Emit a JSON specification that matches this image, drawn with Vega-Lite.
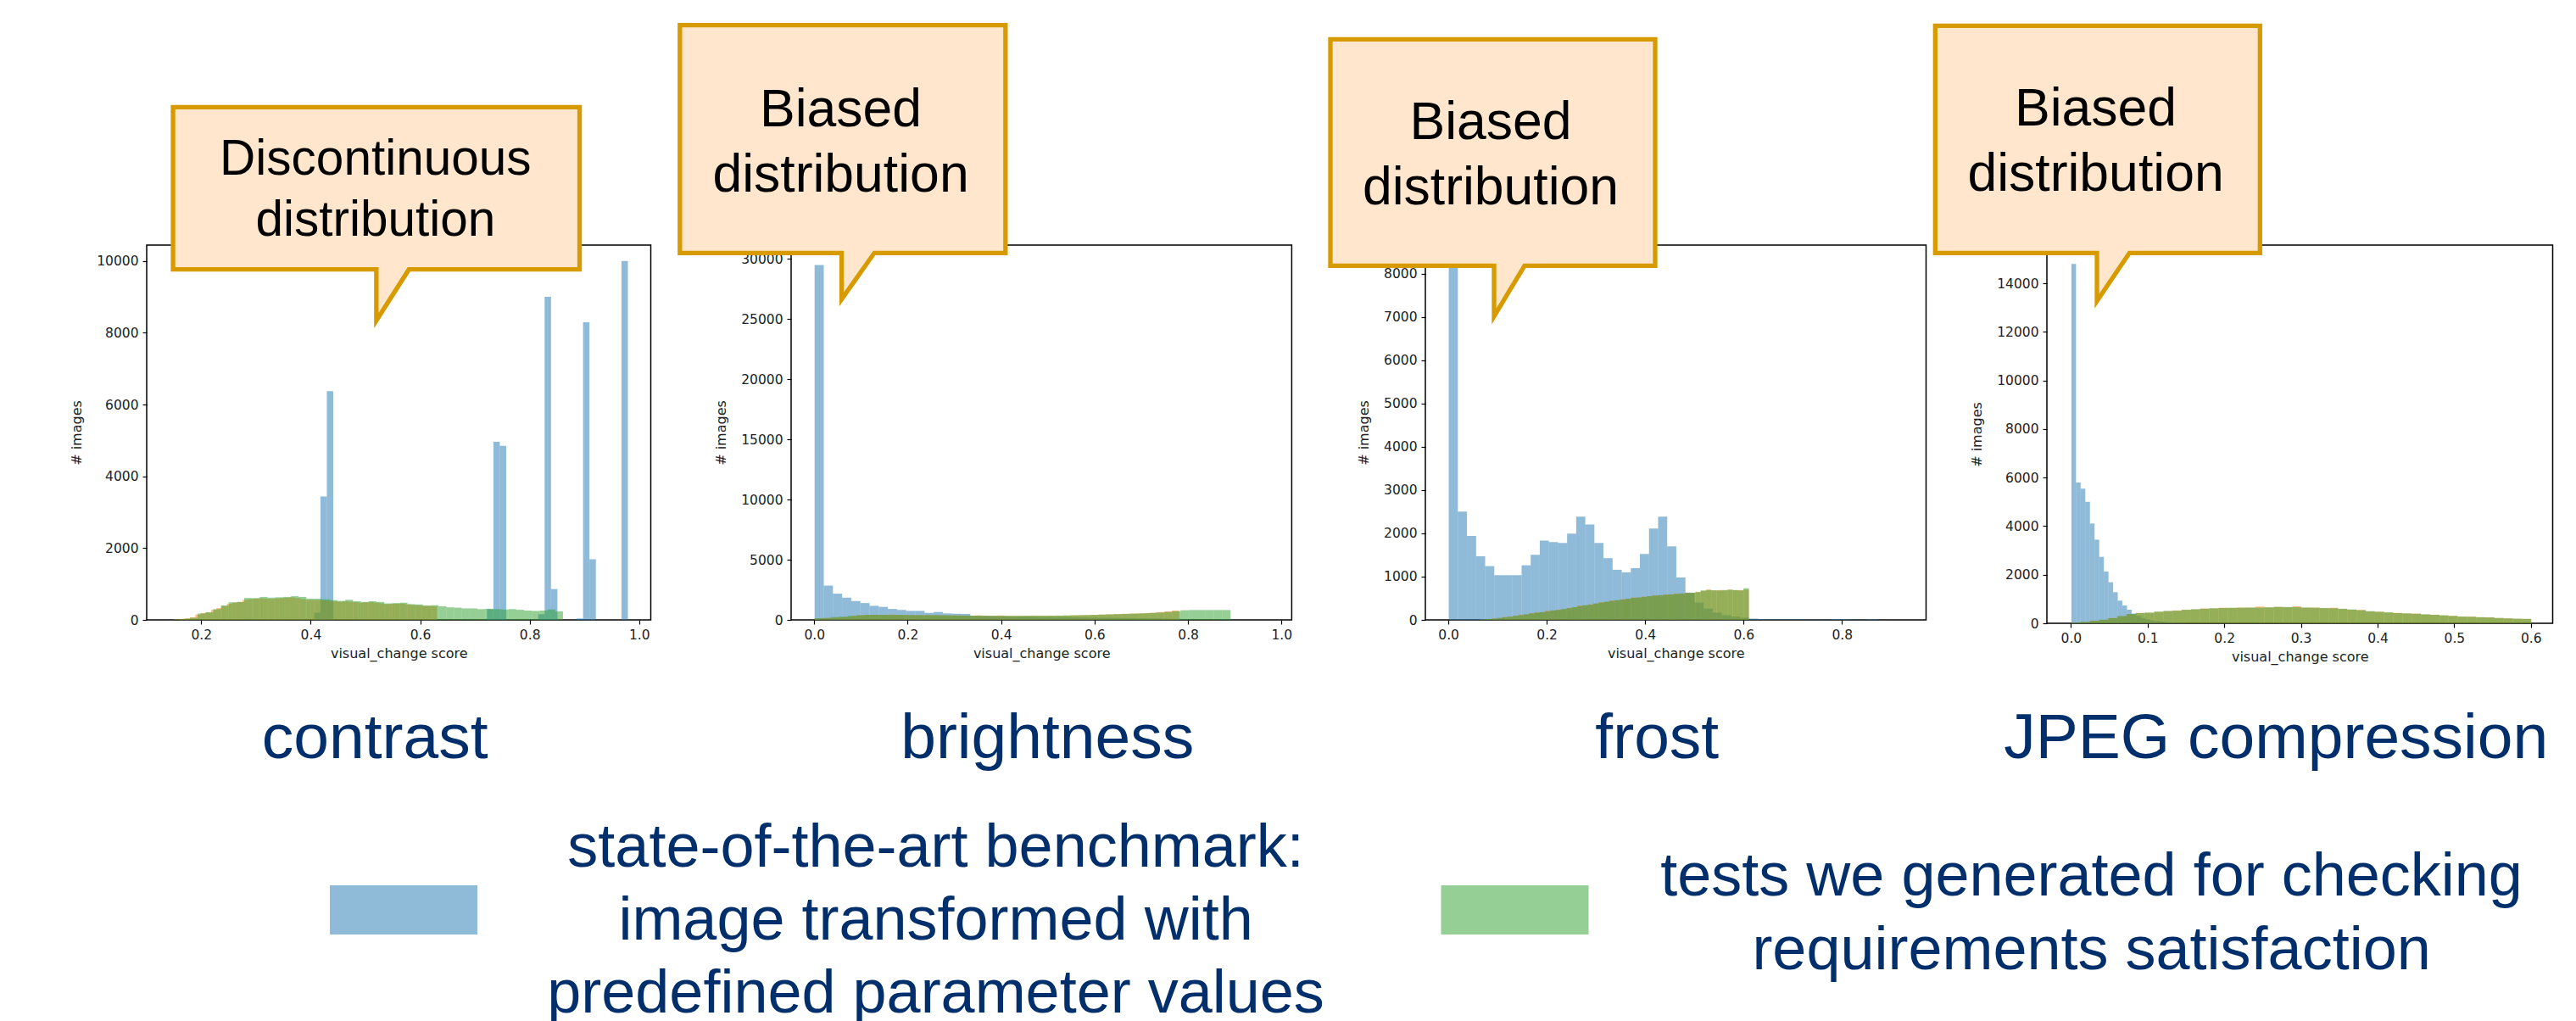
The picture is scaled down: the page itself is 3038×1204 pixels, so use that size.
{
"$schema": "https://vega.github.io/schema/vega-lite/v6.json",
"background": "white",
"padding": {"left": 81, "top": 18, "right": 10, "bottom": 10},
"config": {
  "view": {"stroke": "#000", "strokeWidth": 1.5},
  "axis": {"domain": false, "grid": false, "ticks": true, "tickColor": "#000", "tickSize": 5, "tickWidth": 1.2, "labelFont": "DejaVu Sans", "labelFontSize": 15.5, "labelColor": "#222", "labelPadding": 5, "labelFlush": false, "labelOverlap": false, "titleFont": "DejaVu Sans", "titleFontSize": 16, "titleFontWeight": "normal", "titleColor": "#222"},
  "axisX": {"titlePadding": 6},
  "axisY": {"titlePadding": 15},
  "font": "Liberation Sans"
},
"datasets": {
  "contrast_benchmark": [{"score":0.4053,"count":200},{"score":0.417,"count":3435},{"score":0.4287,"count":6370},{"score":0.7212,"count":300},{"score":0.7329,"count":4960},{"score":0.7446,"count":4850},{"score":0.8148,"count":160},{"score":0.8265,"count":9000},{"score":0.8382,"count":860},{"score":0.885,"count":40},{"score":0.8967,"count":8290},{"score":0.9084,"count":1690},{"score":0.9669,"count":10000}],
  "contrast_other": [{"score":0.15,"count":15},{"score":0.1596,"count":25},{"score":0.1692,"count":45},{"score":0.1788,"count":70},{"score":0.1884,"count":150},{"score":0.198,"count":190},{"score":0.2076,"count":210},{"score":0.2172,"count":280},{"score":0.2268,"count":330},{"score":0.2364,"count":390},{"score":0.246,"count":450},{"score":0.2556,"count":480},{"score":0.2652,"count":500},{"score":0.2748,"count":560},{"score":0.2844,"count":580},{"score":0.294,"count":590},{"score":0.3036,"count":600},{"score":0.3132,"count":590},{"score":0.3228,"count":585},{"score":0.3324,"count":600},{"score":0.342,"count":610},{"score":0.3516,"count":620},{"score":0.3612,"count":630},{"score":0.3708,"count":610},{"score":0.3804,"count":580},{"score":0.39,"count":560},{"score":0.3996,"count":560},{"score":0.4092,"count":555},{"score":0.4188,"count":545},{"score":0.4284,"count":530},{"score":0.438,"count":520},{"score":0.4476,"count":505},{"score":0.4572,"count":520},{"score":0.4668,"count":510},{"score":0.4764,"count":495},{"score":0.486,"count":480},{"score":0.4956,"count":490},{"score":0.5052,"count":495},{"score":0.5148,"count":480},{"score":0.5244,"count":460},{"score":0.534,"count":440},{"score":0.5436,"count":445},{"score":0.5532,"count":450},{"score":0.5628,"count":455},{"score":0.5724,"count":430},{"score":0.582,"count":415},{"score":0.5916,"count":410},{"score":0.6012,"count":390},{"score":0.6108,"count":390},{"score":0.6204,"count":380}],
  "contrast_tests": [{"score":0.15,"count":15},{"score":0.1642,"count":30},{"score":0.1784,"count":60},{"score":0.1926,"count":180},{"score":0.2068,"count":210},{"score":0.221,"count":300},{"score":0.2352,"count":400},{"score":0.2494,"count":490},{"score":0.2636,"count":500},{"score":0.2778,"count":610},{"score":0.292,"count":610},{"score":0.3062,"count":640},{"score":0.3204,"count":620},{"score":0.3346,"count":630},{"score":0.3488,"count":640},{"score":0.363,"count":660},{"score":0.3772,"count":640},{"score":0.3914,"count":590},{"score":0.4056,"count":590},{"score":0.4198,"count":570},{"score":0.434,"count":550},{"score":0.4482,"count":530},{"score":0.4624,"count":560},{"score":0.4766,"count":520},{"score":0.4908,"count":500},{"score":0.505,"count":520},{"score":0.5192,"count":500},{"score":0.5334,"count":460},{"score":0.5476,"count":470},{"score":0.5618,"count":480},{"score":0.576,"count":440},{"score":0.5902,"count":430},{"score":0.6044,"count":400},{"score":0.6186,"count":410},{"score":0.6328,"count":380},{"score":0.647,"count":350},{"score":0.6612,"count":340},{"score":0.6754,"count":320},{"score":0.6896,"count":320},{"score":0.7038,"count":300},{"score":0.718,"count":310},{"score":0.7322,"count":300},{"score":0.7464,"count":290},{"score":0.7606,"count":300},{"score":0.7748,"count":280},{"score":0.789,"count":260},{"score":0.8032,"count":250},{"score":0.8174,"count":260},{"score":0.8316,"count":290},{"score":0.8458,"count":240}],
  "brightness_benchmark": [{"score":0,"count":29500},{"score":0.0196,"count":2850},{"score":0.0392,"count":2180},{"score":0.0588,"count":1850},{"score":0.0784,"count":1570},{"score":0.098,"count":1400},{"score":0.1176,"count":1170},{"score":0.1372,"count":1080},{"score":0.1568,"count":910},{"score":0.1764,"count":820},{"score":0.196,"count":750},{"score":0.2156,"count":750},{"score":0.2352,"count":585},{"score":0.2548,"count":655},{"score":0.2744,"count":540},{"score":0.294,"count":515},{"score":0.3136,"count":500},{"score":0.3332,"count":330},{"score":0.3528,"count":320},{"score":0.3724,"count":300},{"score":0.392,"count":290},{"score":0.4116,"count":280},{"score":0.4312,"count":270},{"score":0.4508,"count":260},{"score":0.4704,"count":250},{"score":0.49,"count":240},{"score":0.5096,"count":230},{"score":0.5292,"count":220},{"score":0.5488,"count":210},{"score":0.5684,"count":200},{"score":0.588,"count":190},{"score":0.6076,"count":180},{"score":0.6272,"count":170},{"score":0.6468,"count":160},{"score":0.6664,"count":150},{"score":0.686,"count":140},{"score":0.7056,"count":130},{"score":0.7252,"count":120},{"score":0.7448,"count":110},{"score":0.7644,"count":100}],
  "brightness_other": [{"score":0,"count":130},{"score":0.0156,"count":150},{"score":0.0312,"count":180},{"score":0.0468,"count":230},{"score":0.0624,"count":260},{"score":0.078,"count":350},{"score":0.0936,"count":400},{"score":0.1092,"count":430},{"score":0.1248,"count":430},{"score":0.1404,"count":420},{"score":0.156,"count":440},{"score":0.1716,"count":420},{"score":0.1872,"count":410},{"score":0.2028,"count":400},{"score":0.2184,"count":390},{"score":0.234,"count":400},{"score":0.2496,"count":400},{"score":0.2652,"count":380},{"score":0.2808,"count":375},{"score":0.2964,"count":380},{"score":0.312,"count":360},{"score":0.3276,"count":350},{"score":0.3432,"count":380},{"score":0.3588,"count":340},{"score":0.3744,"count":340},{"score":0.39,"count":370},{"score":0.4056,"count":335},{"score":0.4212,"count":330},{"score":0.4368,"count":340},{"score":0.4524,"count":350},{"score":0.468,"count":345},{"score":0.4836,"count":340},{"score":0.4992,"count":350},{"score":0.5148,"count":350},{"score":0.5304,"count":360},{"score":0.546,"count":380},{"score":0.5616,"count":390},{"score":0.5772,"count":400},{"score":0.5928,"count":420},{"score":0.6084,"count":440},{"score":0.624,"count":460},{"score":0.6396,"count":480},{"score":0.6552,"count":500},{"score":0.6708,"count":520},{"score":0.6864,"count":540},{"score":0.702,"count":560},{"score":0.7176,"count":600},{"score":0.7332,"count":650},{"score":0.7488,"count":700},{"score":0.7644,"count":780}],
  "brightness_tests": [{"score":0,"count":140},{"score":0.0178,"count":160},{"score":0.0356,"count":230},{"score":0.0534,"count":260},{"score":0.0712,"count":330},{"score":0.089,"count":390},{"score":0.1068,"count":420},{"score":0.1246,"count":420},{"score":0.1424,"count":420},{"score":0.1602,"count":410},{"score":0.178,"count":410},{"score":0.1958,"count":400},{"score":0.2136,"count":400},{"score":0.2314,"count":390},{"score":0.2492,"count":390},{"score":0.267,"count":380},{"score":0.2848,"count":370},{"score":0.3026,"count":360},{"score":0.3204,"count":355},{"score":0.3382,"count":350},{"score":0.356,"count":345},{"score":0.3738,"count":340},{"score":0.3916,"count":340},{"score":0.4094,"count":335},{"score":0.4272,"count":340},{"score":0.445,"count":340},{"score":0.4628,"count":345},{"score":0.4806,"count":345},{"score":0.4984,"count":350},{"score":0.5162,"count":360},{"score":0.534,"count":370},{"score":0.5518,"count":380},{"score":0.5696,"count":400},{"score":0.5874,"count":420},{"score":0.6052,"count":440},{"score":0.623,"count":460},{"score":0.6408,"count":480},{"score":0.6586,"count":500},{"score":0.6764,"count":520},{"score":0.6942,"count":540},{"score":0.712,"count":570},{"score":0.7298,"count":610},{"score":0.7476,"count":660},{"score":0.7654,"count":720},{"score":0.7832,"count":800},{"score":0.801,"count":820},{"score":0.8188,"count":820},{"score":0.8366,"count":820},{"score":0.8544,"count":820},{"score":0.8722,"count":820}],
  "frost_benchmark": [{"score":0,"count":8210},{"score":0.0185,"count":2505},{"score":0.037,"count":1942},{"score":0.0555,"count":1471},{"score":0.074,"count":1243},{"score":0.0925,"count":1033},{"score":0.111,"count":1033},{"score":0.1295,"count":1033},{"score":0.148,"count":1262},{"score":0.1665,"count":1504},{"score":0.185,"count":1831},{"score":0.2035,"count":1800},{"score":0.222,"count":1780},{"score":0.2405,"count":1995},{"score":0.259,"count":2387},{"score":0.2775,"count":2204},{"score":0.296,"count":1780},{"score":0.3145,"count":1426},{"score":0.333,"count":1158},{"score":0.3515,"count":1099},{"score":0.37,"count":1197},{"score":0.3885,"count":1524},{"score":0.407,"count":2112},{"score":0.4255,"count":2387},{"score":0.444,"count":1700},{"score":0.4625,"count":981},{"score":0.481,"count":630},{"score":0.4995,"count":400},{"score":0.518,"count":260},{"score":0.5365,"count":170},{"score":0.555,"count":110},{"score":0.5735,"count":80},{"score":0.592,"count":50},{"score":0.6105,"count":30},{"score":0.629,"count":15},{"score":0.6475,"count":12},{"score":0.666,"count":12},{"score":0.6845,"count":12},{"score":0.703,"count":12},{"score":0.7215,"count":10},{"score":0.74,"count":10},{"score":0.7585,"count":5},{"score":0.777,"count":20},{"score":0.7955,"count":20},{"score":0.814,"count":5},{"score":0.8325,"count":3},{"score":0.851,"count":20},{"score":0.8695,"count":3}],
  "frost_other": [{"score":0.065,"count":8},{"score":0.0759,"count":18},{"score":0.0868,"count":35},{"score":0.0977,"count":40},{"score":0.1086,"count":65},{"score":0.1195,"count":80},{"score":0.1304,"count":90},{"score":0.1413,"count":120},{"score":0.1522,"count":125},{"score":0.1631,"count":155},{"score":0.174,"count":170},{"score":0.1849,"count":175},{"score":0.1958,"count":210},{"score":0.2067,"count":215},{"score":0.2176,"count":240},{"score":0.2285,"count":245},{"score":0.2394,"count":280},{"score":0.2503,"count":290},{"score":0.2612,"count":330},{"score":0.2721,"count":335},{"score":0.283,"count":360},{"score":0.2939,"count":375},{"score":0.3048,"count":410},{"score":0.3157,"count":415},{"score":0.3266,"count":450},{"score":0.3375,"count":450},{"score":0.3484,"count":480},{"score":0.3593,"count":485},{"score":0.3702,"count":520},{"score":0.3811,"count":515},{"score":0.392,"count":540},{"score":0.4029,"count":545},{"score":0.4138,"count":570},{"score":0.4247,"count":565},{"score":0.4356,"count":590},{"score":0.4465,"count":585},{"score":0.4574,"count":610},{"score":0.4683,"count":605},{"score":0.4792,"count":630},{"score":0.4901,"count":620},{"score":0.501,"count":650},{"score":0.5119,"count":670},{"score":0.5228,"count":700},{"score":0.5337,"count":680},{"score":0.5446,"count":690},{"score":0.5555,"count":680},{"score":0.5664,"count":700},{"score":0.5773,"count":685},{"score":0.5882,"count":690},{"score":0.5991,"count":700}],
  "frost_tests": [{"score":0.065,"count":10},{"score":0.0759,"count":20},{"score":0.0868,"count":30},{"score":0.0977,"count":45},{"score":0.1086,"count":60},{"score":0.1195,"count":75},{"score":0.1304,"count":95},{"score":0.1413,"count":110},{"score":0.1522,"count":130},{"score":0.1631,"count":150},{"score":0.174,"count":165},{"score":0.1849,"count":180},{"score":0.1958,"count":200},{"score":0.2067,"count":220},{"score":0.2176,"count":230},{"score":0.2285,"count":250},{"score":0.2394,"count":270},{"score":0.2503,"count":295},{"score":0.2612,"count":320},{"score":0.2721,"count":340},{"score":0.283,"count":350},{"score":0.2939,"count":380},{"score":0.3048,"count":400},{"score":0.3157,"count":420},{"score":0.3266,"count":440},{"score":0.3375,"count":455},{"score":0.3484,"count":470},{"score":0.3593,"count":490},{"score":0.3702,"count":510},{"score":0.3811,"count":520},{"score":0.392,"count":530},{"score":0.4029,"count":550},{"score":0.4138,"count":560},{"score":0.4247,"count":570},{"score":0.4356,"count":580},{"score":0.4465,"count":590},{"score":0.4574,"count":600},{"score":0.4683,"count":610},{"score":0.4792,"count":620},{"score":0.4901,"count":625},{"score":0.501,"count":640},{"score":0.5119,"count":680},{"score":0.5228,"count":690},{"score":0.5337,"count":685},{"score":0.5446,"count":680},{"score":0.5555,"count":690},{"score":0.5664,"count":695},{"score":0.5773,"count":690},{"score":0.5882,"count":680},{"score":0.5991,"count":730}],
  "jpeg_benchmark": [{"score":0,"count":14795},{"score":0.00605,"count":5797},{"score":0.0121,"count":5540},{"score":0.01815,"count":5005},{"score":0.0242,"count":4109},{"score":0.03025,"count":3445},{"score":0.0363,"count":2735},{"score":0.04235,"count":2130},{"score":0.0484,"count":1688},{"score":0.05445,"count":1280},{"score":0.0605,"count":931},{"score":0.06655,"count":733},{"score":0.0726,"count":559},{"score":0.07865,"count":400},{"score":0.0847,"count":300},{"score":0.09075,"count":220},{"score":0.0968,"count":160},{"score":0.10285,"count":120},{"score":0.1089,"count":90},{"score":0.11495,"count":70},{"score":0.121,"count":50},{"score":0.12705,"count":35},{"score":0.1331,"count":25},{"score":0.13915,"count":15},{"score":0.1452,"count":10}],
  "jpeg_other": [{"score":0,"count":25},{"score":0.012,"count":55},{"score":0.024,"count":110},{"score":0.036,"count":140},{"score":0.048,"count":220},{"score":0.06,"count":290},{"score":0.072,"count":370},{"score":0.084,"count":430},{"score":0.096,"count":430},{"score":0.108,"count":470},{"score":0.12,"count":500},{"score":0.132,"count":530},{"score":0.144,"count":550},{"score":0.156,"count":570},{"score":0.168,"count":610},{"score":0.18,"count":610},{"score":0.192,"count":640},{"score":0.204,"count":630},{"score":0.216,"count":650},{"score":0.228,"count":640},{"score":0.24,"count":690},{"score":0.252,"count":650},{"score":0.264,"count":680},{"score":0.276,"count":660},{"score":0.288,"count":700},{"score":0.3,"count":640},{"score":0.312,"count":650},{"score":0.324,"count":620},{"score":0.336,"count":640},{"score":0.348,"count":590},{"score":0.36,"count":560},{"score":0.372,"count":550},{"score":0.384,"count":490},{"score":0.396,"count":480},{"score":0.408,"count":440},{"score":0.42,"count":430},{"score":0.432,"count":400},{"score":0.444,"count":400},{"score":0.456,"count":360},{"score":0.468,"count":355},{"score":0.48,"count":320},{"score":0.492,"count":310},{"score":0.504,"count":270},{"score":0.516,"count":275},{"score":0.528,"count":245},{"score":0.54,"count":245},{"score":0.552,"count":215},{"score":0.564,"count":205},{"score":0.576,"count":185},{"score":0.588,"count":180}],
  "jpeg_tests": [{"score":0,"count":30},{"score":0.012,"count":60},{"score":0.024,"count":100},{"score":0.036,"count":150},{"score":0.048,"count":210},{"score":0.06,"count":300},{"score":0.072,"count":380},{"score":0.084,"count":420},{"score":0.096,"count":440},{"score":0.108,"count":480},{"score":0.12,"count":510},{"score":0.132,"count":520},{"score":0.144,"count":560},{"score":0.156,"count":580},{"score":0.168,"count":600},{"score":0.18,"count":620},{"score":0.192,"count":630},{"score":0.204,"count":640},{"score":0.216,"count":640},{"score":0.228,"count":650},{"score":0.24,"count":650},{"score":0.252,"count":660},{"score":0.264,"count":670},{"score":0.276,"count":670},{"score":0.288,"count":660},{"score":0.3,"count":650},{"score":0.312,"count":640},{"score":0.324,"count":630},{"score":0.336,"count":620},{"score":0.348,"count":600},{"score":0.36,"count":570},{"score":0.372,"count":540},{"score":0.384,"count":500},{"score":0.396,"count":470},{"score":0.408,"count":450},{"score":0.42,"count":420},{"score":0.432,"count":410},{"score":0.444,"count":390},{"score":0.456,"count":370},{"score":0.468,"count":350},{"score":0.48,"count":330},{"score":0.492,"count":300},{"score":0.504,"count":280},{"score":0.516,"count":270},{"score":0.528,"count":250},{"score":0.54,"count":240},{"score":0.552,"count":220},{"score":0.564,"count":200},{"score":0.576,"count":190},{"score":0.588,"count":180}]
},
"spacing": 54,
"vconcat": [
 {
  "spacing": 0,
  "bounds": "flush",
  "hconcat": [
  {
    "width": 594.5, "height": 442,
    "title": {"text": "contrast", "orient": "bottom", "frame": "group", "anchor": "middle", "offset": 56, "dx": -28, "baseline": "top", "fontSize": 75, "font": "Liberation Sans", "fontWeight": "normal", "color": "#002F6C"},
    "layer": [
      {"data": {"name": "contrast_benchmark"}, "mark": {"type": "bar", "binSpacing": 0, "opacity": 0.5},
       "encoding": {
         "x": {"field": "score", "type": "quantitative", "bin": {"binned": true, "step": 0.0117}, "title": "visual_change score", "scale": {"domain": [0.1004, 1.0212], "nice": false, "zero": false}, "axis": {"values": [0.2, 0.4, 0.6, 0.8, 1.0], "format": ".1f"}},
         "y": {"field": "count", "type": "quantitative", "title": "# images", "scale": {"domain": [0, 10442], "nice": false}, "axis": {"values": [0, 2000, 4000, 6000, 8000, 10000], "format": "d"}},
         "color": {"datum": "benchmark", "scale": {"domain": ["benchmark", "other", "tests"], "range": ["#1f77b4", "#ff7f0e", "#2ca02c"]}, "legend": null}}},
      {"data": {"name": "contrast_other"}, "mark": {"type": "bar", "binSpacing": 0, "opacity": 0.5},
       "encoding": {
         "x": {"field": "score", "type": "quantitative", "bin": {"binned": true, "step": 0.0096}, "title": "visual_change score"},
         "y": {"field": "count", "type": "quantitative", "title": "# images"},
         "color": {"datum": "other", "legend": null}}},
      {"data": {"name": "contrast_tests"}, "mark": {"type": "bar", "binSpacing": 0, "opacity": 0.5},
       "encoding": {
         "x": {"field": "score", "type": "quantitative", "bin": {"binned": true, "step": 0.0142}, "title": "visual_change score"},
         "y": {"field": "count", "type": "quantitative", "title": "# images"},
         "color": {"datum": "tests", "legend": null}}},
      {"data": {"values": [{"note": "Discontinuous\ndistribution"}]},
       "mark": {"type": "point", "shape": "M0,0L38.4,-60.3H239.7V-251.7H-239.8V-60.3H0Z", "size": 4, "filled": true, "fill": "#ffe6cc", "stroke": "#d79b00", "strokeWidth": 5.3, "strokeJoin": "miter", "opacity": 1},
       "encoding": {"x": {"datum": 0.5199}, "y": {"datum": 8339}}},
      {"data": {"values": [{"note": "Discontinuous\ndistribution"}]},
       "mark": {"type": "text", "lineBreak": "\n", "font": "Liberation Sans", "fontSize": 58.5, "lineHeight": 71.7, "dy": -172, "dx": -1, "color": "#000", "baseline": "alphabetic", "align": "center"},
       "encoding": {"x": {"datum": 0.5199}, "y": {"datum": 8339}, "text": {"field": "note"}}}
    ]
  },
  {"width": 164.2, "height": 442, "view": {"stroke": null}, "data": {"values": []}, "mark": "point"},
  {
    "width": 590.4, "height": 442,
    "title": {"text": "brightness", "orient": "bottom", "frame": "group", "anchor": "middle", "offset": 56, "dx": 7, "baseline": "top", "fontSize": 75, "font": "Liberation Sans", "fontWeight": "normal", "color": "#002F6C"},
    "layer": [
      {"data": {"name": "brightness_benchmark"}, "mark": {"type": "bar", "binSpacing": 0, "opacity": 0.5},
       "encoding": {
         "x": {"field": "score", "type": "quantitative", "bin": {"binned": true, "step": 0.0196}, "title": "visual_change score", "scale": {"domain": [-0.0494, 1.0219], "nice": false, "zero": false}, "axis": {"values": [0, 0.2, 0.4, 0.6, 0.8, 1.0], "format": ".1f"}},
         "y": {"field": "count", "type": "quantitative", "title": "# images", "scale": {"domain": [0, 31149], "nice": false}, "axis": {"values": [0, 5000, 10000, 15000, 20000, 25000, 30000], "format": "d"}},
         "color": {"datum": "benchmark", "scale": {"domain": ["benchmark", "other", "tests"], "range": ["#1f77b4", "#ff7f0e", "#2ca02c"]}, "legend": null}}},
      {"data": {"name": "brightness_other"}, "mark": {"type": "bar", "binSpacing": 0, "opacity": 0.5},
       "encoding": {
         "x": {"field": "score", "type": "quantitative", "bin": {"binned": true, "step": 0.0156}, "title": "visual_change score"},
         "y": {"field": "count", "type": "quantitative", "title": "# images"},
         "color": {"datum": "other", "legend": null}}},
      {"data": {"name": "brightness_tests"}, "mark": {"type": "bar", "binSpacing": 0, "opacity": 0.5},
       "encoding": {
         "x": {"field": "score", "type": "quantitative", "bin": {"binned": true, "step": 0.0178}, "title": "visual_change score"},
         "y": {"field": "count", "type": "quantitative", "title": "# images"},
         "color": {"datum": "tests", "legend": null}}},
      {"data": {"values": [{"note": "Biased\ndistribution"}]},
       "mark": {"type": "point", "shape": "M0,0L38.6,-54.7H193.3V-323.3H-190.7V-54.7H0Z", "size": 4, "filled": true, "fill": "#ffe6cc", "stroke": "#d79b00", "strokeWidth": 5.3, "strokeJoin": "miter", "opacity": 1},
       "encoding": {"x": {"datum": 0.0586}, "y": {"datum": 26638}}},
      {"data": {"values": [{"note": "Biased\ndistribution"}]},
       "mark": {"type": "text", "lineBreak": "\n", "font": "Liberation Sans", "fontSize": 62.5, "lineHeight": 76.7, "dy": -203.7, "dx": -1, "color": "#000", "baseline": "alphabetic", "align": "center"},
       "encoding": {"x": {"datum": 0.0586}, "y": {"datum": 26638}, "text": {"field": "note"}}}
    ]
  },
  {"width": 156.4, "height": 442, "view": {"stroke": null}, "data": {"values": []}, "mark": "point"},
  {
    "width": 590.5, "height": 442,
    "title": {"text": "frost", "orient": "bottom", "frame": "group", "anchor": "middle", "offset": 56, "dx": -22, "baseline": "top", "fontSize": 75, "font": "Liberation Sans", "fontWeight": "normal", "color": "#002F6C"},
    "layer": [
      {"data": {"name": "frost_benchmark"}, "mark": {"type": "bar", "binSpacing": 0, "opacity": 0.5},
       "encoding": {
         "x": {"field": "score", "type": "quantitative", "bin": {"binned": true, "step": 0.0185}, "title": "visual_change score", "scale": {"domain": [-0.0467, 0.971], "nice": false, "zero": false}, "axis": {"values": [0, 0.2, 0.4, 0.6, 0.8], "format": ".1f"}},
         "y": {"field": "count", "type": "quantitative", "title": "# images", "scale": {"domain": [0, 8660], "nice": false}, "axis": {"values": [0, 1000, 2000, 3000, 4000, 5000, 6000, 7000, 8000], "format": "d"}},
         "color": {"datum": "benchmark", "scale": {"domain": ["benchmark", "other", "tests"], "range": ["#1f77b4", "#ff7f0e", "#2ca02c"]}, "legend": null}}},
      {"data": {"name": "frost_other"}, "mark": {"type": "bar", "binSpacing": 0, "opacity": 0.5},
       "encoding": {
         "x": {"field": "score", "type": "quantitative", "bin": {"binned": true, "step": 0.0109}, "title": "visual_change score"},
         "y": {"field": "count", "type": "quantitative", "title": "# images"},
         "color": {"datum": "other", "legend": null}}},
      {"data": {"name": "frost_tests"}, "mark": {"type": "bar", "binSpacing": 0, "opacity": 0.5},
       "encoding": {
         "x": {"field": "score", "type": "quantitative", "bin": {"binned": true, "step": 0.0109}, "title": "visual_change score"},
         "y": {"field": "count", "type": "quantitative", "title": "# images"},
         "color": {"datum": "tests", "legend": null}}},
      {"data": {"values": [{"note": "Biased\ndistribution"}]},
       "mark": {"type": "point", "shape": "M0,0L36,-59.7H190V-326.7H-193V-59.7H0Z", "size": 4, "filled": true, "fill": "#ffe6cc", "stroke": "#d79b00", "strokeWidth": 5.3, "strokeJoin": "miter", "opacity": 1},
       "encoding": {"x": {"datum": 0.0929}, "y": {"datum": 7014}}},
      {"data": {"values": [{"note": "Biased\ndistribution"}]},
       "mark": {"type": "text", "lineBreak": "\n", "font": "Liberation Sans", "fontSize": 62.5, "lineHeight": 76.7, "dy": -208.7, "dx": -4, "color": "#000", "baseline": "alphabetic", "align": "center"},
       "encoding": {"x": {"datum": 0.0929}, "y": {"datum": 7014}, "text": {"field": "note"}}}
    ]
  },
  {"width": 141.5, "height": 442, "view": {"stroke": null}, "data": {"values": []}, "mark": "point"},
  {
    "width": 596.5, "height": 446,
    "title": {"text": "JPEG compression", "orient": "bottom", "frame": "group", "anchor": "middle", "offset": 52, "dx": -28, "baseline": "top", "fontSize": 75, "font": "Liberation Sans", "fontWeight": "normal", "color": "#002F6C"},
    "layer": [
      {"data": {"name": "jpeg_benchmark"}, "mark": {"type": "bar", "binSpacing": 0, "opacity": 0.5},
       "encoding": {
         "x": {"field": "score", "type": "quantitative", "bin": {"binned": true, "step": 0.00605}, "title": "visual_change score", "scale": {"domain": [-0.0314, 0.6285], "nice": false, "zero": false}, "axis": {"values": [0, 0.1, 0.2, 0.3, 0.4, 0.5, 0.6], "format": ".1f"}},
         "y": {"field": "count", "type": "quantitative", "title": "# images", "scale": {"domain": [0, 15573], "nice": false}, "axis": {"values": [0, 2000, 4000, 6000, 8000, 10000, 12000, 14000], "format": "d"}},
         "color": {"datum": "benchmark", "scale": {"domain": ["benchmark", "other", "tests"], "range": ["#1f77b4", "#ff7f0e", "#2ca02c"]}, "legend": null}}},
      {"data": {"name": "jpeg_other"}, "mark": {"type": "bar", "binSpacing": 0, "opacity": 0.5},
       "encoding": {
         "x": {"field": "score", "type": "quantitative", "bin": {"binned": true, "step": 0.012}, "title": "visual_change score"},
         "y": {"field": "count", "type": "quantitative", "title": "# images"},
         "color": {"datum": "other", "legend": null}}},
      {"data": {"name": "jpeg_tests"}, "mark": {"type": "bar", "binSpacing": 0, "opacity": 0.5},
       "encoding": {
         "x": {"field": "score", "type": "quantitative", "bin": {"binned": true, "step": 0.012}, "title": "visual_change score"},
         "y": {"field": "count", "type": "quantitative", "title": "# images"},
         "color": {"datum": "tests", "legend": null}}},
      {"data": {"values": [{"note": "Biased\ndistribution"}]},
       "mark": {"type": "point", "shape": "M0,0L38.3,-56.7H192.3V-324.7H-190.7V-56.7H0Z", "size": 4, "filled": true, "fill": "#ffe6cc", "stroke": "#d79b00", "strokeWidth": 5.3, "strokeJoin": "miter", "opacity": 1},
       "encoding": {"x": {"datum": 0.0339}, "y": {"datum": 13269}}},
      {"data": {"values": [{"note": "Biased\ndistribution"}]},
       "mark": {"type": "text", "lineBreak": "\n", "font": "Liberation Sans", "fontSize": 62.5, "lineHeight": 77, "dy": -206.7, "dx": -1.5, "color": "#000", "baseline": "alphabetic", "align": "center"},
       "encoding": {"x": {"datum": 0.0339}, "y": {"datum": 13269}, "text": {"field": "note"}}}
    ]
  }
  ]
 },
 {
    "width": 2834, "height": 216,
    "view": {"stroke": null},
    "data": {"values": [
      {"series": "benchmark", "label": "state-of-the-art benchmark:\nimage transformed with\npredefined parameter values"},
      {"series": "tests", "label": "tests we generated for checking\nrequirements satisfaction"}
    ]},
    "layer": [
      {"mark": {"type": "point", "shape": "M-1.5,-0.5H1.5V0.5H-1.5Z", "size": 13456, "filled": true, "opacity": 0.5, "strokeWidth": 0},
       "encoding": {
         "x": {"field": "series", "type": "nominal", "scale": {"type": "point", "domain": ["benchmark", "tests"], "padding": 0.5813, "align": 0.1989}, "axis": null},
         "color": {"field": "series", "type": "nominal", "scale": {"domain": ["benchmark", "other", "tests"], "range": ["#1f77b4", "#ff7f0e", "#2ca02c"]}, "legend": null}}},
      {"transform": [{"filter": "datum.series === 'benchmark'"}],
       "mark": {"type": "text", "lineBreak": "\n", "font": "Liberation Sans", "fontSize": 72, "lineHeight": 86, "color": "#002F6C", "baseline": "alphabetic", "align": "center", "dy": -51},
       "encoding": {
         "x": {"field": "series", "type": "nominal", "scale": {"type": "point", "domain": ["benchmark", "tests"], "padding": 0.5396, "align": 0.6326}, "axis": null},
         "text": {"field": "label"}}},
      {"transform": [{"filter": "datum.series === 'tests'"}],
       "mark": {"type": "text", "lineBreak": "\n", "font": "Liberation Sans", "fontSize": 72, "lineHeight": 87, "color": "#002F6C", "baseline": "alphabetic", "align": "center", "dy": -17},
       "encoding": {
         "x": {"field": "series", "type": "nominal", "scale": {"type": "point", "domain": ["benchmark", "tests"], "padding": 0.5396, "align": 0.6326}, "axis": null},
         "text": {"field": "label"}}}
    ],
    "resolve": {"scale": {"x": "independent"}}
 }
]
}
